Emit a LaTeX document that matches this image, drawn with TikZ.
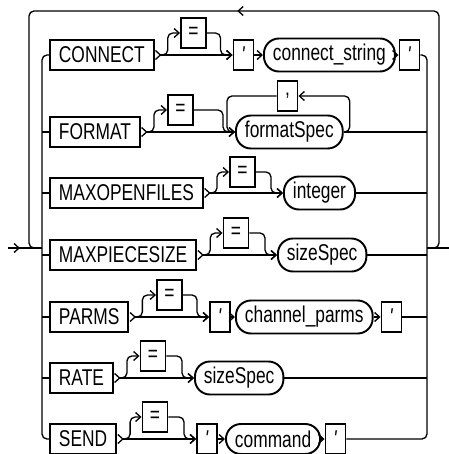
\documentclass[tikz,border=0pt]{standalone}
\usepackage{fontspec}
\setmainfont{Liberation Sans}[FakeStretch=0.76]
\usetikzlibrary{arrows.meta, calc, decorations.markings}
\newcommand{\sq}{{\itshape\textquotesingle}}
\tikzset{
	chev/.tip={Straight Barb[length=1mm, width=1.8mm]},
	kw/.style ={rectangle, draw=black, line width=1.1pt, minimum height=6mm, inner xsep=1.8mm, anchor=west},
	sym/.style={rectangle, draw=black, line width=1.1pt, minimum height=6mm, minimum width=4mm, inner sep=0pt},
	eqbox/.style={sym, minimum width=5mm},
	var/.style={rectangle, rounded corners=3mm, draw=black, line width=1.1pt, minimum height=6mm, inner xsep=1.8mm, anchor=west},
	% rails
	rail/.style={line width=0.75pt, rounded corners=1mm},
	go/.style  ={rail, -chev},
	kgo/.style ={rail, {Straight Barb[reversed, length=1mm, width=1.8mm]}-chev},
	chevat/.style={postaction={decorate, decoration={markings, mark=at position #1 with {\arrow{chev}}}}},
}
\begin{document}
\begin{tikzpicture}[x=0.02cm, y=-0.02cm, every node/.style={font=\fontsize{13pt}{15pt}\selectfont}]
	\useasboundingbox (0,0) rectangle (449,454);
	\coordinate (in)  at (8,248);
	\coordinate (out) at (449,248);
	\coordinate (lb)  at (42,248);
	\coordinate (rb)  at (427,248);
	\coordinate (ne)  at (439,11);
	\coordinate (nw)  at (29,11);
	% CONNECT
	\node[kw] (k1) at (49,55) {CONNECT};
	\node[eqbox] (e1) at (193.5,33) {=};
	\node[sym] (q1a) at (243.5,55) {\sq};
	\node[var] (s1) at (263,55) {connect\_string};
	\node[sym] (q1b) at (409.5,55) {\sq};
	% FORMAT
	\node[kw] (k2) at (49,132) {FORMAT};
	\node[eqbox] (e2) at (180.5,110) {=};
	\node[var] (f2) at (235,132) {formatSpec};
	\node[sym] (c2) at (287.5,96) {,};
	% MAXOPENFILES
	\node[kw] (k3) at (49,193) {MAXOPENFILES};
	\node[eqbox] (e3) at (242.5,172) {=};
	\node[var] (i3) at (283,193) {integer};
	% MAXPIECESIZE
	\node[kw] (k4) at (49,255) {MAXPIECESIZE};
	\node[eqbox] (e4) at (236,233) {=};
	\node[var] (s4) at (277,255) {sizeSpec};
	% PARMS
	\node[kw] (k5) at (49,317) {PARMS};
	\node[eqbox] (e5) at (169.5,295) {=};
	\node[sym] (q5a) at (220,317) {\sq};
	\node[var] (p5) at (235,317) {channel\_parms};
	\node[sym] (q5b) at (391.5,317) {\sq};
	% RATE
	\node[kw] (k6) at (49,378) {RATE};
	\node[eqbox] (e6) at (153,356) {=};
	\node[var] (s6) at (194,378) {sizeSpec};
	% SEND
	\node[kw] (k7) at (49,439) {SEND};
	\node[eqbox] (e7) at (155,417) {=};
	\node[sym] (q7a) at (207,439) {\sq};
	\node[var] (m7) at (225,439) {command};
	\node[sym] (q7b) at (335.5,439) {\sq};

	% entry, exit, outer repeat loop
	\draw[rail, chevat=2.4mm] (in) -- (lb);
	\draw[rail] (rb) -- (out);
	\draw[rail, chevat=89.3mm] (rb) -| (ne) -- (nw) |- (lb);
	% buses
	\draw[rail] (k1.west) -| (lb) |- (k7.west);
	\draw[rail] (q1b.east) -| (rb) |- (q7b.east);
	\foreach \k in {k2,k3,k4,k5,k6}
		\draw[rail] (lb |- \k.west) -- (\k.west);
	\foreach \v in {f2,i3,s4,q5b,s6}
		\draw[rail] (\v.east) -- (rb |- \v.east);
	% optional =
	\foreach \k/\e/\n in {k1/e1/q1a, k2/e2/f2, k3/e3/i3, k4/e4/s4, k5/e5/q5a, k6/e6/s6, k7/e7/q7a} {
		\draw[kgo] (\k.east) -- (\n.west);
		\draw[go] ([xshift=1mm]\k.east) -- ++(1.6mm,0) |- (\e.west);
		\draw[go] (\e.east) -| ([xshift=-2.4mm]\n.west) -- (\n.west);
	}
	\draw[go] (q1a.east) -- (s1.west);
	\draw[go] (s1.east) -- (q1b.west);
	\draw[go] (q5a.east) -- (p5.west);
	\draw[go] (p5.east) -- (q5b.west);
	\draw[go] (q7a.east) -- (m7.west);
	\draw[go] (m7.east) -- (q7b.west);
	% formatSpec list
	\draw[go] (f2.east) -- ++(1.2mm,0) |- (c2.east);
	\draw[rail] (c2.west) -| ([xshift=-1.6mm]f2.west) -- (f2.west);
\end{tikzpicture}
\end{document}
